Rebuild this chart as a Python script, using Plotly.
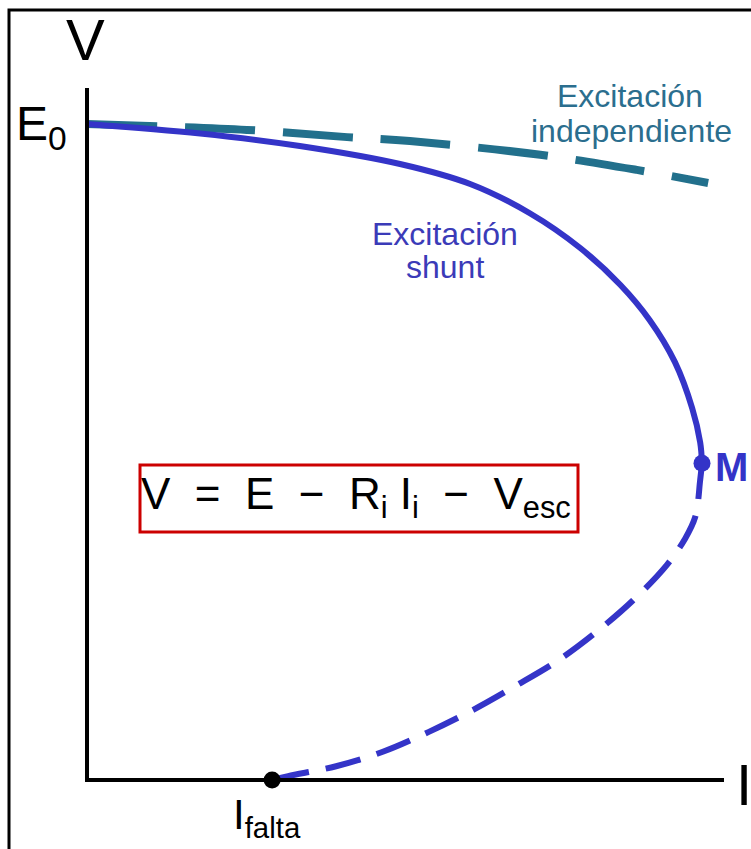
import plotly.graph_objects as go

# ---- data (I, V in normalized units: E0 = 1, I at point M = 1) ----
shunt_solid_I = [0.0, 0.184, 0.346, 0.509, 0.623, 0.720, 0.802, 0.867, 0.915, 0.956, 0.984, 0.997, 1.0]
shunt_solid_V = [1.0, 0.9855, 0.9665, 0.939, 0.9085, 0.864, 0.811, 0.755, 0.701, 0.637, 0.567, 0.515, 0.483]

shunt_dash_I = [1.0, 0.997, 0.989, 0.972, 0.943, 0.888, 0.826, 0.764, 0.696, 0.628, 0.555, 0.481, 0.405, 0.327, 0.301]
shunt_dash_V = [0.483, 0.457, 0.401, 0.367, 0.328, 0.274, 0.224, 0.181, 0.143, 0.107, 0.073, 0.043, 0.021, 0.006, 0.0]

indep_I = [0.0, 0.260, 0.423, 0.525, 0.737, 0.894, 1.010]
indep_V = [1.0, 0.991, 0.980, 0.974, 0.953, 0.930, 0.910]

point_M = (1.0, 0.483)
point_Ifalta = (0.301, 0.0)

# ---- layout helpers (pixel -> axis units) ----
W, H = 751, 849
OX, OY = 87, 780
SX, SY = 615.0, 656.0
def px(x):
    return (x - OX) / SX
def py(y):
    return (OY - y) / SY

BLUE = "#3434C8"
TEAL = "#22708C"
FONT = "Liberation Sans, Arial, Helvetica, sans-serif"

fig = go.Figure()

fig.add_trace(go.Scatter(x=indep_I, y=indep_V, mode="lines",
                         line=dict(color=TEAL, width=8, dash="70px,28px", shape="spline"),
                         hoverinfo="skip"))
fig.add_trace(go.Scatter(x=shunt_solid_I, y=shunt_solid_V, mode="lines",
                         line=dict(color=BLUE, width=6, shape="spline"),
                         hoverinfo="skip"))
fig.add_trace(go.Scatter(x=shunt_dash_I, y=shunt_dash_V, mode="lines",
                         line=dict(color=BLUE, width=6, dash="36px,17px", shape="spline"),
                         hoverinfo="skip"))

shapes = [
    # axes
    dict(type="line", xref="x", yref="y", x0=0, y0=0, x1=0, y1=py(88),
         line=dict(color="black", width=4)),
    dict(type="line", xref="x", yref="y", x0=px(85), y0=0, x1=px(724), y1=0,
         line=dict(color="black", width=4)),
    # outer frame
    dict(type="rect", xref="paper", yref="paper", x0=9 / W, y0=-0.05, x1=1.05, y1=1 - 10 / H,
         line=dict(color="black", width=3)),
    # equation box
    dict(type="rect", xref="x", yref="y", x0=px(140), y0=py(532), x1=px(578), y1=py(465),
         line=dict(color="#CC0000", width=3)),
]

fig.add_trace(go.Scatter(x=[point_Ifalta[0]], y=[point_Ifalta[1]], mode="markers",
                         marker=dict(color="black", size=17), hoverinfo="skip"))
fig.add_trace(go.Scatter(x=[point_M[0]], y=[point_M[1]], mode="markers",
                         marker=dict(color=BLUE, size=17), hoverinfo="skip"))

nb = "\u00a0"
annotations = [
    dict(x=px(85), y=py(39), text="V", font=dict(size=58, color="black", family=FONT),
         xanchor="center", yanchor="middle"),
    dict(x=px(14), y=py(127), text="E<sub>0</sub>", font=dict(size=48, color="black", family=FONT),
         xanchor="left", yanchor="middle"),
    dict(x=px(231), y=py(817), text="I<sub>falta</sub>", font=dict(size=42, color="black", family=FONT),
         xanchor="left", yanchor="middle"),
    dict(x=px(734), y=py(784), text="I", font=dict(size=58, color="black", family=FONT),
         xanchor="left", yanchor="middle"),
    dict(x=px(713), y=py(467), text="<b>M</b>", font=dict(size=40, color=BLUE, family=FONT),
         xanchor="left", yanchor="middle"),
    dict(x=px(630), y=py(96), text="Excitación",
         font=dict(size=32, color="#2B6E8E", family=FONT), xanchor="center", yanchor="middle"),
    dict(x=px(631), y=py(131), text="independiente",
         font=dict(size=32, color="#2B6E8E", family=FONT), xanchor="center", yanchor="middle"),
    dict(x=px(445), y=py(234), text="Excitación",
         font=dict(size=32, color="#3B3BB8", family=FONT), xanchor="center", yanchor="middle"),
    dict(x=px(445), y=py(267), text="shunt",
         font=dict(size=32, color="#3B3BB8", family=FONT), xanchor="center", yanchor="middle"),
    dict(x=px(356), y=py(497),
         text="V" + nb * 2 + "=" + nb * 2 + "E" + nb * 2 + "\u2212" + nb * 2 + "R<sub>i</sub>" + nb +
              "I<sub>i</sub>" + nb * 2 + "\u2212" + nb * 2 + "V<sub>esc</sub>",
         font=dict(size=44, color="black", family=FONT), xanchor="center", yanchor="middle"),
]
for a in annotations:
    a.update(xref="x", yref="y", showarrow=False)

fig.update_layout(
    width=W, height=H,
    margin=dict(l=0, r=0, t=0, b=0),
    paper_bgcolor="white", plot_bgcolor="white",
    showlegend=False,
    xaxis=dict(range=[px(0), px(W)], visible=False, fixedrange=True),
    yaxis=dict(range=[py(H), py(0)], visible=False, fixedrange=True),
    shapes=shapes,
    annotations=annotations,
)

fig.write_html("out.html", config={"displayModeBar": False},
               post_script="document.body.style.margin='0';document.body.style.overflow='hidden';")
